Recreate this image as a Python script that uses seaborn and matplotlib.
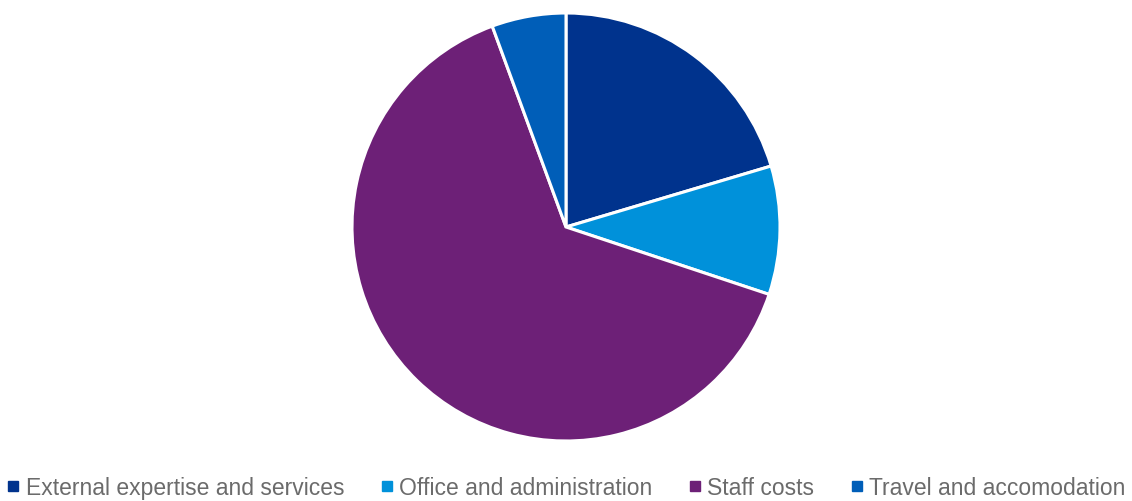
import matplotlib
matplotlib.use("Agg")
import matplotlib.pyplot as plt
from matplotlib.lines import Line2D
import seaborn as sns

categories = ["External expertise and services", "Office and administration",
              "Staff costs", "Travel and accomodation"]
shares = [20.4, 9.7, 64.3, 5.6]
colors = ["#00338D", "#0091DA", "#6D2077", "#005EB8"]

sns.set_theme(style="white")
plt.rcParams["font.family"] = ["Liberation Sans", "DejaVu Sans"]
palette = sns.color_palette(colors)

W, H = 1132, 502
fig = plt.figure(figsize=(W / 100, H / 100), dpi=100)
cx, cy, r = 566, 274, 214
ax = fig.add_axes([(cx - r) / W, (cy - r) / H, 2 * r / W, 2 * r / H])
ax.pie(shares, colors=palette, startangle=90, counterclock=False,
       radius=1.0, wedgeprops=dict(edgecolor="white", linewidth=2.2))
ax.set_xlim(-1.0, 1.0)
ax.set_ylim(-1.0, 1.0)
ax.set_aspect("equal")
ax.axis("off")

handles = [Line2D([0], [0], marker="s", linestyle="none", markersize=6.5,
                  markerfacecolor=c, markeredgecolor=c) for c in palette]
fig.legend(handles, categories, loc="center", bbox_to_anchor=(0.5, 13 / H),
           ncol=4, frameon=False, fontsize=16.5, labelcolor="#6b6b6b",
           handletextpad=0.25, columnspacing=1.55, handlelength=0.6,
           borderpad=0, borderaxespad=0)

fig.savefig("out.png", dpi=100)
